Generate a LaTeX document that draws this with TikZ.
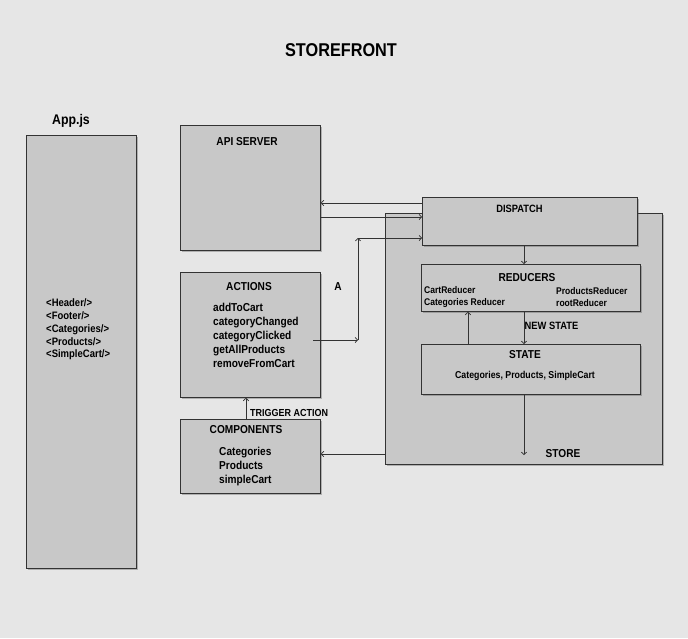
\documentclass[tikz,border=0pt]{standalone}
\usepackage{fontspec}
\setmainfont{Liberation Sans}[FakeStretch=0.88]
\usetikzlibrary{arrows.meta,shadows}
\definecolor{bg}{HTML}{E6E6E6}
\definecolor{boxgray}{HTML}{C8C8C8}
\definecolor{edge}{HTML}{333333}
\begin{document}
\begin{tikzpicture}[x=1pt,y=-1pt,
  box/.style={draw=edge, fill=boxgray, line width=0.8pt, inner sep=0pt, anchor=north west,
    drop shadow={shadow xshift=1.2pt,shadow yshift=-1.6pt,opacity=0.35,fill=black!70}},
  conn/.style={draw=edge, line width=0.7pt, -{Straight Barb[length=2.5pt,width=5.5pt]}},
  big/.style={font=\bfseries\fontsize{11.5}{14}\selectfont, inner sep=0pt},
  small/.style={font=\bfseries\fontsize{9.7}{12.3}\selectfont, inner sep=0pt},
  list/.style={big, align=left, anchor=west}]
\fill[bg] (0,0) rectangle (688,638);
\useasboundingbox (0,0) rectangle (688,638);

% boxes
\node[box, minimum width=110pt, minimum height=433pt] (app) at (26,135) {};
\node[box, minimum width=140pt, minimum height=125pt] (api) at (180,125) {};
\node[box, minimum width=140pt, minimum height=125pt] (actions) at (180,272) {};
\node[box, minimum width=140pt, minimum height=74pt] (comp) at (180,419) {};
\node[box, minimum width=277pt, minimum height=251pt] (store) at (385,213) {};
\node[box, minimum width=215pt, minimum height=48pt] (dispatch) at (422,197) {};
\node[box, minimum width=219pt, minimum height=47pt] (reducers) at (421,264) {};
\node[box, minimum width=219pt, minimum height=50pt] (state) at (421,344) {};

% texts
\node[font=\bfseries\fontsize{18.5}{20}\selectfont, inner sep=0pt] (title) at (341,50) {STOREFRONT};
\node[font=\bfseries\fontsize{14}{16}\selectfont, inner sep=0pt] (appjs) at (71,121) {App.js};
\node[inner sep=0pt, align=left, anchor=west, font=\bfseries\fontsize{10.8}{12.7}\selectfont] (appitems) at (46,329.5)
  {<Header/>\\<Footer/>\\<Categories/>\\<Products/>\\<SimpleCart/>};
\node[big] (apilbl) at (247,142) {API SERVER};
\node[big] (actlbl) at (249,287) {ACTIONS};
\node[list] (actitems) at (213,335)
  {addToCart\\categoryChanged\\categoryClicked\\getAllProducts\\removeFromCart};
\node[big] (alabel) at (338,287) {A};
\node[big] (complbl) at (246,430) {COMPONENTS};
\node[list] (compitems) at (219,467) {Categories\\Products\\simpleCart};
\node[big, anchor=west, font=\bfseries\fontsize{10.2}{12}\selectfont] (trigger) at (250,413) {TRIGGER ACTION};
\node[big, font=\bfseries\fontsize{10.6}{12}\selectfont] (displbl) at (519.5,209) {DISPATCH};
\node[big] (redlbl) at (527,278) {REDUCERS};
\node[small, align=left, anchor=west] (redleft) at (424,297) {CartReducer\\Categories Reducer};
\node[small, align=left, anchor=west] (redright) at (556,297) {ProductsReducer\\rootReducer};
\node[big, anchor=west, font=\bfseries\fontsize{10.6}{12}\selectfont] (newstate) at (524.5,326) {NEW STATE};
\node[big] (statelbl) at (525,355) {STATE};
\node[inner sep=0pt, font=\bfseries\fontsize{10}{12}\selectfont] (stateitems) at (525,376) {Categories, Products, SimpleCart};
\node[big] (storelbl) at (563,454) {STORE};

% helper coordinates
\coordinate (y203) at (0,203);
\coordinate (y217) at (0,217);
\coordinate (y238) at (0,238);
\coordinate (y454) at (0,454);
\coordinate (x524) at (524,0);
\coordinate (x468) at (468,0);
\coordinate (x246) at (246,0);
\coordinate (bend1) at (358,340);
\coordinate (bend2) at (358,238);
\coordinate (actout) at (313,340);
\coordinate (storeend) at (524,455);

% connectors
\draw[conn] (dispatch.west |- y203) -- (api.east |- y203);
\draw[conn] (api.east |- y217) -- (dispatch.west |- y217);
\draw[conn] (actout) -- (bend1);
\draw[conn] (bend1) -- (bend2);
\draw[conn] (bend2) -- (dispatch.west |- y238);
\draw[conn] (comp.north -| x246) -- (actions.south -| x246);
\draw[conn] (store.west |- y454) -- (comp.east |- y454);
\draw[conn] (dispatch.south -| x524) -- (reducers.north -| x524);
\draw[conn] (reducers.south -| x524) -- (state.north -| x524);
\draw[conn] (state.north -| x468) -- (reducers.south -| x468);
\draw[conn] (state.south -| x524) -- (storeend);
\end{tikzpicture}
\end{document}
